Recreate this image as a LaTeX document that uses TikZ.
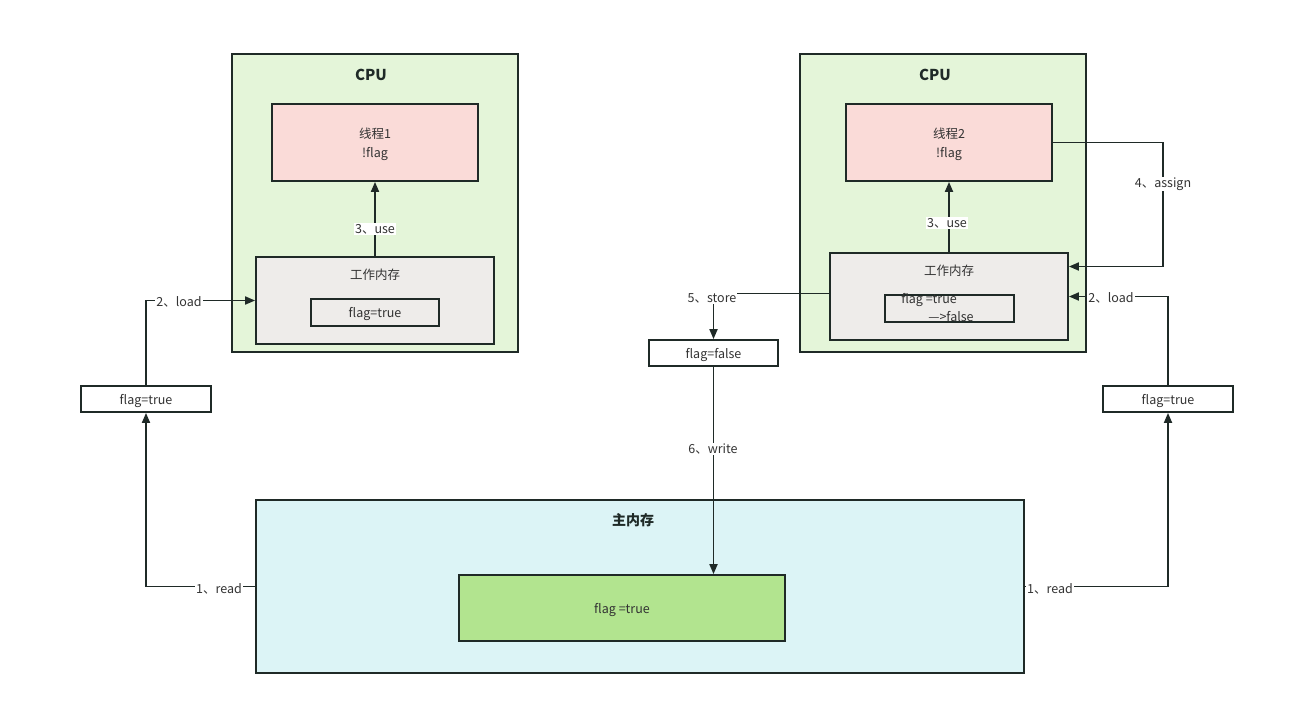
\documentclass[tikz,border=0pt]{standalone}
\usepackage{fontspec}
\setmainfont{Noto Sans CJK SC}
\usetikzlibrary{arrows.meta,calc}
\definecolor{cpuc}{HTML}{E4F5D9}
\definecolor{thc}{HTML}{FADBD8}
\definecolor{wmc}{HTML}{EEECEA}
\definecolor{mmc}{HTML}{DCF4F6}
\definecolor{gmc}{HTML}{B2E48F}
\definecolor{ln}{HTML}{1F2A27}
\definecolor{tx}{HTML}{333333}
\begin{document}
\begin{tikzpicture}[x=1pt,y=-1pt,
  box/.style={draw=ln,line width=1.8pt,minimum width=#1,inner sep=0pt,font=\fontsize{12.5}{14}\selectfont,text=tx,text depth=0pt},
  conn/.style={draw=ln,line width=1.8pt},
  arr/.style={conn,-{Triangle[length=10pt,width=8pt]}},
  lbl/.style={fill=white,inner sep=1pt,text=tx,font=\fontsize{12.5}{14}\selectfont},
  plain/.style={text=tx,font=\fontsize{12.5}{14}\selectfont},
  ttl/.style={text=ln,font=\fontsize{15}{17}\selectfont\bfseries}]
\useasboundingbox (0,0) rectangle (1297,721);
% left CPU
\node[box=286pt,minimum height=298pt,fill=cpuc] (cpu1) at (375,203) {};
\node[ttl] (cpu1t) at (371,75) {CPU};
\node[box=206pt,minimum height=77pt,fill=thc,align=center,font=\fontsize{12.5}{19}\selectfont] (t1) at (375,142.5) {线程1\\!flag};
\node[box=238pt,minimum height=87pt,fill=wmc] (wm1) at (375,300.5) {};
\node[plain] (wm1t) at (375,275) {工作内存};
\node[box=128pt,minimum height=27pt] (fv1) at (375,312.5) {flag=true};
% right CPU
\node[box=286pt,minimum height=298pt,fill=cpuc] (cpu2) at (943,203) {};
\node[ttl] (cpu2t) at (935,75) {CPU};
\node[box=206pt,minimum height=77pt,fill=thc,align=center,font=\fontsize{12.5}{19}\selectfont] (t2) at (949,142.5) {线程2\\!flag};
\node[box=238pt,minimum height=87pt,fill=wmc] (wm2) at (949,296.5) {};
\node[plain] (wm2t) at (949,271) {工作内存};
\node[box=129pt,minimum height=27pt] (fv2) at (949.5,308.5) {};
\node[plain] (fv2a) at (929,300) {flag =true};
\node[plain] (fv2b) at (951,317) {—>false};
% side value boxes
\node[box=130pt,minimum height=26pt,fill=white] (ft1) at (146,399) {flag=true};
\node[box=130pt,minimum height=26pt,fill=white] (ft2) at (1168,399) {flag=true};
\node[box=129pt,minimum height=26pt,fill=white] (ff) at (713.5,353) {flag=false};
% main memory
\node[box=768pt,minimum height=173pt,fill=mmc] (mm) at (640,586.5) {};
\node[ttl,font=\fontsize{14}{17}\selectfont\bfseries] (mmt) at (633,520) {主内存};
\node[box=326pt,minimum height=66pt,fill=gmc] (gm) at (622,608) {flag =true};
% connectors
\coordinate (c4) at (1163,142.5);
\draw[arr] (mm.west) -| (ft1.south);
\draw[arr] (ft1.north) |- (wm1.west);
\draw[arr] (wm1.north) -- (t1.south);
\draw[arr] (mm.east) -| (ft2.south);
\draw[arr] (ft2.north) |- (wm2.east);
\draw[arr] (wm2.north) -- (t2.south);
\draw[arr] (t2.east) -- (c4) |- ([yshift=30pt]wm2.east);
\draw[arr] ([yshift=3pt]wm2.west) -| (ff.north);
\draw[arr] (ff.south) -- (ff.south |- gm.north);
% labels
\node[lbl] (l1a) at (219,589) {1、read};
\node[lbl] (l2a) at (179,302) {2、load};
\node[lbl] (l3a) at (375,229) {3、use};
\node[lbl] (l1b) at (1050,589) {1、read};
\node[lbl] (l2b) at (1111,298) {2、load};
\node[lbl] (l3b) at (947,223) {3、use};
\node[lbl] (l4) at (1163,184) {4、assign};
\node[lbl] (l5) at (712,298) {5、store};
\node[lbl] (l6) at (713,449) {6、write};
\end{tikzpicture}
\end{document}
